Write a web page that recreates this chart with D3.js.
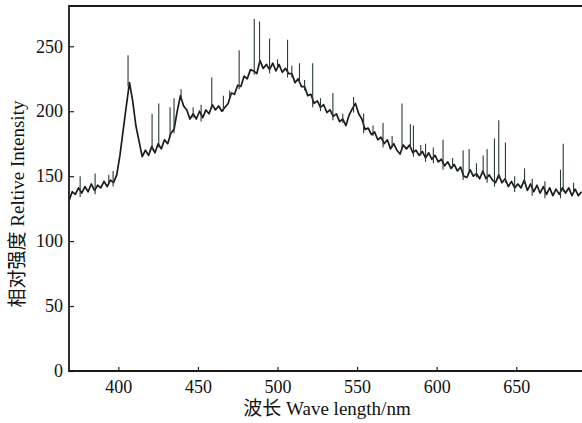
<!DOCTYPE html>
<html>
<head>
<meta charset="utf-8">
<script src="https://cdn.jsdelivr.net/npm/d3@7"></script>
<style>
  body { margin: 0; background: #fff; }
  svg text { font-family: "Liberation Serif", "Noto Sans CJK SC", serif; fill: #111; }
</style>
</head>
<body>
<div id="chart"></div>
<script>
// wavelength (nm) and relative intensity
var wavelengths = [369, 371, 373, 375, 377, 379, 381, 383, 385, 387,
  389, 391, 393, 395, 397, 399, 401, 403, 405, 407,
  409, 411, 413, 415, 417, 419, 421, 423, 425, 427,
  429, 431, 433, 435, 437, 439, 441, 443, 445, 447,
  449, 451, 453, 455, 457, 459, 461, 463, 465, 467,
  469, 471, 473, 475, 477, 479, 481, 483, 485, 487,
  489, 491, 493, 495, 497, 499, 501, 503, 505, 507,
  509, 511, 513, 515, 517, 519, 521, 523, 525, 527,
  529, 531, 533, 535, 537, 539, 541, 543, 545, 547,
  549, 551, 553, 555, 557, 559, 561, 563, 565, 567,
  569, 571, 573, 575, 577, 579, 581, 583, 585, 587,
  589, 591, 593, 595, 597, 599, 601, 603, 605, 607,
  609, 611, 613, 615, 617, 619, 621, 623, 625, 627,
  629, 631, 633, 635, 637, 639, 641, 643, 645, 647,
  649, 651, 653, 655, 657, 659, 661, 663, 665, 667,
  669, 671, 673, 675, 677, 679, 681, 683, 685, 687,
  689, 691];

var intensity = [131, 138, 136, 141, 137, 142, 138, 144, 139, 143,
  141, 146, 142, 147, 145, 151, 166, 185, 204, 222,
  208, 189, 177, 165, 170, 166, 173, 168, 175, 171,
  178, 175, 183, 186, 200, 212, 204, 201, 194, 198,
  194, 200, 195, 201, 198, 205, 201, 204, 200, 203,
  206, 214, 213, 220, 219, 227, 225, 232, 231, 229,
  239, 233, 236, 232, 237, 231, 236, 230, 233, 229,
  229, 222, 225, 219, 219, 212, 213, 206, 208, 203,
  205, 199, 201, 196, 198, 192, 194, 189, 197, 202,
  206, 198, 194, 186, 187, 182, 184, 178, 180, 175,
  178, 171, 175, 170, 167, 174, 171, 174, 168, 170,
  166, 169, 164, 168, 163, 166, 161, 163, 158, 161,
  156, 159, 154, 157, 150, 149, 155, 150, 152, 148,
  154, 148, 151, 147, 145, 151, 145, 148, 142, 146,
  141, 144, 141, 147, 139, 144, 138, 143, 137, 142,
  136, 141, 135, 140, 136, 141, 137, 141, 135, 140,
  135, 138];

// narrow emission lines sticking out of the band
var spikeNm = [376, 385.4, 394, 396.7, 406.1, 421.2, 425.4, 432.5, 435, 439.4,
  447, 452, 458.7, 466, 470, 475.9, 485.4, 488.7, 495, 500,
  506.3, 509, 513.8, 517, 522.1, 527, 534.8, 541, 547.8, 554.1,
  560, 566.3, 572, 578.2, 583.5, 585.4, 590, 593, 597.9, 604,
  610, 616.6, 620.4, 625, 629.2, 631.7, 636.3, 639, 643.2, 649,
  655.2, 660, 668, 677.8, 679.5, 686];
var spikeTop = [150, 152, 151, 154, 243, 198, 206, 203, 210, 217,
  203, 205, 226, 212, 216, 247, 271, 269, 256, 240,
  255, 235, 237, 224, 237, 210, 214, 198, 211, 198,
  189, 191, 181, 206, 190, 189, 174, 175, 172, 178,
  164, 170, 171, 160, 166, 171, 179, 193, 176, 150,
  156, 148, 146, 155, 175, 145];

var xTicks = [400, 450, 500, 550, 600, 650];
var yTicks = [0, 50, 100, 150, 200, 250];

var W = 582, H = 423;
var padL = 69, padR = 582, padT = 6, padB = 371;

var svg = d3.select("#chart").append("svg")
  .attr("width", W)
  .attr("height", H);

var x = d3.scaleLinear().domain([369, 691.3]).range([padL, padR]);
var y = d3.scaleLinear().domain([0, 281]).range([padB, padT]);

var points = wavelengths.map(function(d, i) { return [d, intensity[i]]; });

// spectrum band
var line = d3.line()
  .x(function(d) { return x(d[0]); })
  .y(function(d) { return y(d[1]); });

svg.append("path")
  .datum(points)
  .attr("fill", "none")
  .attr("stroke", "#1b1b1b")
  .attr("stroke-width", 1.7)
  .attr("stroke-linejoin", "round")
  .attr("d", line);

// spikes start from the band value closest to them
var bis = d3.bisector(function(d) { return d; }).center;
svg.selectAll("line.spike")
  .data(spikeNm)
  .enter()
  .append("line")
  .attr("class", "spike")
  .attr("x1", function(d) { return x(d); })
  .attr("x2", function(d) { return x(d); })
  .attr("y1", function(d) { return y(intensity[bis(wavelengths, d)] - 3); })
  .attr("y2", function(d, i) { return y(spikeTop[i]); })
  .attr("stroke", "#2a3a38")
  .attr("stroke-width", 1.1);

// axes, ticks point inward
var yAxis = svg.append("g")
  .attr("transform", "translate(" + padL + ",0)")
  .call(d3.axisLeft(y).tickValues(yTicks).tickSize(-5).tickPadding(6));

var xAxis = svg.append("g")
  .attr("transform", "translate(0," + padB + ")")
  .call(d3.axisBottom(x).tickValues(xTicks).tickSize(-4).tickPadding(9));

[yAxis, xAxis].forEach(function(g) {
  g.select(".domain").remove();
  g.selectAll(".tick line").attr("stroke", "#222").attr("stroke-width", 1.2);
  g.selectAll(".tick text")
    .attr("font-size", 18)
    .attr("font-family", "Liberation Serif, serif")
    .attr("fill", "#111");
});

// frame: left, bottom and top (right edge is cut off)
svg.append("path")
  .attr("d", "M" + padR + "," + padT + "H" + padL + "V" + padB + "H" + padR)
  .attr("fill", "none")
  .attr("stroke", "#1a1a1a")
  .attr("stroke-width", 1.8);

// titles
svg.append("text")
  .attr("x", 327)
  .attr("y", 415)
  .attr("text-anchor", "middle")
  .attr("font-size", 19)
  .text("波长 Wave length/nm");

svg.append("text")
  .attr("transform", "translate(24,204) rotate(-90)")
  .attr("text-anchor", "middle")
  .attr("font-size", 19)
  .text("相对强度 Reltive Intensity");
</script>
</body>
</html>
